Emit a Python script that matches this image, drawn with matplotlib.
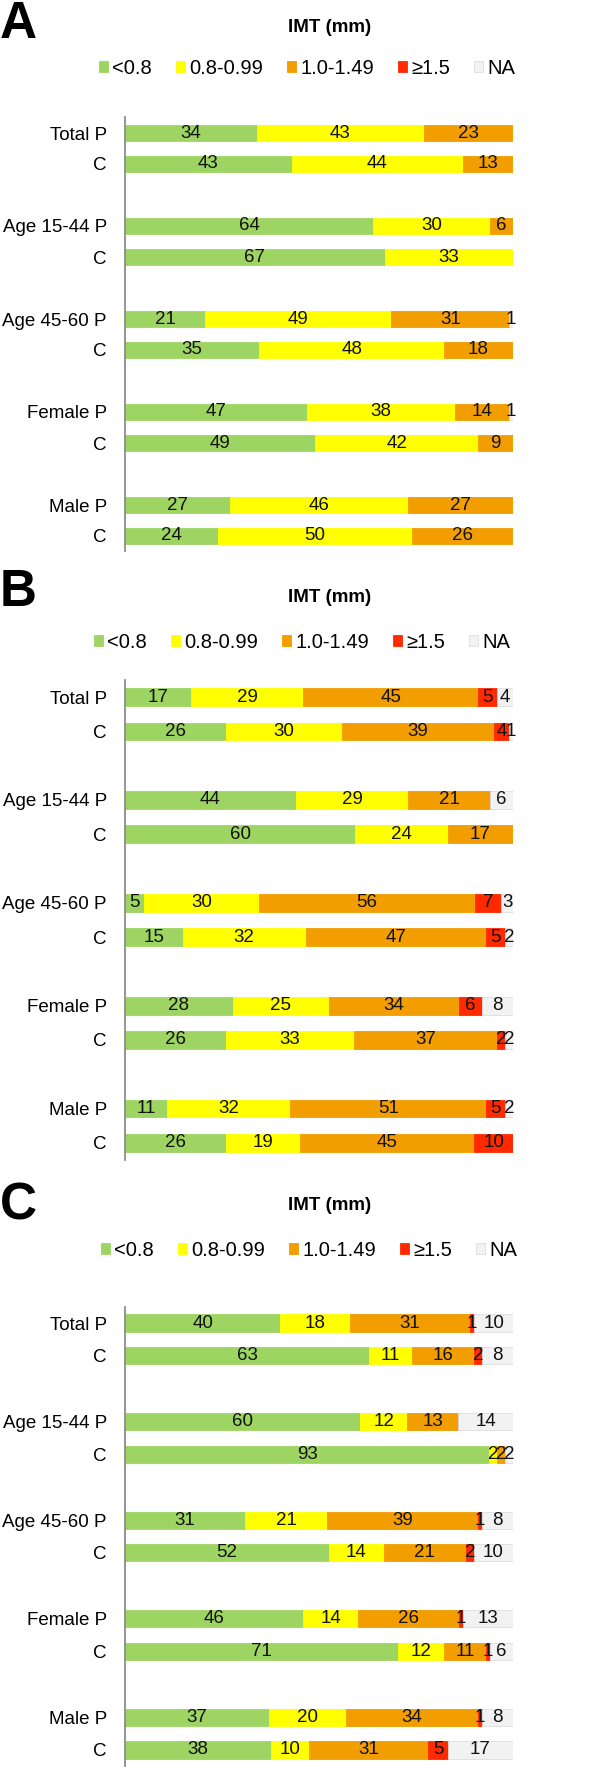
import numpy as np
import matplotlib
matplotlib.use("Agg")
import matplotlib.pyplot as plt

plt.rcParams['font.family'] = ['Liberation Sans', 'DejaVu Sans']

groups = ["Total", "Age 15-44", "Age 45-60", "Female", "Male"]
legend_labels = ["<0.8", "0.8-0.99", "1.0-1.49", "≥1.5", "NA"]
colors = ["#9ED562", "#FFFF00", "#F29D00", "#FF2A00", "#F2F2F2"]

# row order: Total P, Total C, Age 15-44 P, C, Age 45-60 P, C, Female P, C, Male P, C
a_lt08 = [34, 43, 64, 67, 21, 35, 47, 49, 27, 24]
a_08 = [43, 44, 30, 33, 49, 48, 38, 42, 46, 50]
a_10 = [23, 13, 6, 0, 31, 18, 14, 9, 27, 26]
a_15 = [0, 0, 0, 0, 0, 0, 0, 0, 0, 0]
a_na = [0, 0, 0, 0, 1, 0, 1, 0, 0, 0]

b_lt08 = [17, 26, 44, 60, 5, 15, 28, 26, 11, 26]
b_08 = [29, 30, 29, 24, 30, 32, 25, 33, 32, 19]
b_10 = [45, 39, 21, 17, 56, 47, 34, 37, 51, 45]
b_15 = [5, 4, 0, 0, 7, 5, 6, 2, 5, 10]
b_na = [4, 1, 6, 0, 3, 2, 8, 2, 2, 0]

c_lt08 = [40, 63, 60, 93, 31, 52, 46, 71, 37, 38]
c_08 = [18, 11, 12, 2, 21, 14, 14, 12, 20, 10]
c_10 = [31, 16, 13, 2, 39, 21, 26, 11, 34, 31]
c_15 = [1, 2, 0, 0, 1, 2, 1, 1, 1, 5]
c_na = [10, 8, 14, 2, 8, 10, 13, 6, 8, 17]

panels = [
    ("A", [a_lt08, a_08, a_10, a_15, a_na], 117.5, 551.5, 25, 28, 68, 99),
    ("B", [b_lt08, b_08, b_10, b_15, b_na], 680, 1160, 592, 598, 642, 94),
    ("C", [c_lt08, c_08, c_10, c_15, c_na], 1306.6, 1766.4, 1206, 1205, 1250, 101),
]

W, H = 600, 1767
fig = plt.figure(figsize=(W / 100, H / 100), dpi=100)

ypos = []
ylabels = []
for g, name in enumerate(groups):
    ypos += [g * 3, g * 3 + 1]
    ylabels += [name + " P", "C"]

for letter, series, top, bottom, ly, ty, legy, legx in panels:
    ax = fig.add_axes([125 / W, 1 - bottom / H, 388 / W, (bottom - top) / H])
    vals = np.array(series, dtype=float)
    totals = vals.sum(axis=0)
    left = np.zeros(len(ypos))
    for i in range(5):
        w = vals[i] / totals * 100
        bars = ax.barh(ypos, w, left=left, height=0.52, color=colors[i],
                       edgecolor="#DDDDDD" if i == 4 else colors[i], linewidth=0.6,
                       label=legend_labels[i])
        ax.bar_label(bars, labels=[str(int(v)) if v > 0 else "" for v in vals[i]],
                     label_type="center", fontsize=13.5, color="#111111")
        left += w
    ax.set_xlim(0, 100)
    ax.set_ylim(13.5, -0.5)
    ax.set_yticks(ypos)
    ax.set_yticklabels(ylabels, fontsize=13.5)
    ax.tick_params(axis="y", length=0, pad=13)
    ax.set_xticks([])
    for s in ["top", "right", "bottom"]:
        ax.spines[s].set_visible(False)
    ax.spines["left"].set_color("#8C8C8C")
    ax.spines["left"].set_linewidth(1.3)

    fig.text(0, 1 - ly / H, letter, fontsize=37, fontweight="bold", va="center", ha="left")
    fig.text(330 / W, 1 - ty / H, "IMT (mm)", fontsize=13.5, fontweight="bold",
             va="center", ha="center")
    handles, labs = ax.get_legend_handles_labels()
    fig.legend(handles, labs, loc="center left", bbox_to_anchor=(legx / W, 1 - legy / H),
               ncol=5, frameon=False, fontsize=14.5, handlelength=0.45, handleheight=0.45,
               handletextpad=0.2, columnspacing=1.2, borderpad=0, borderaxespad=0)

fig.savefig("out.png", dpi=100)
